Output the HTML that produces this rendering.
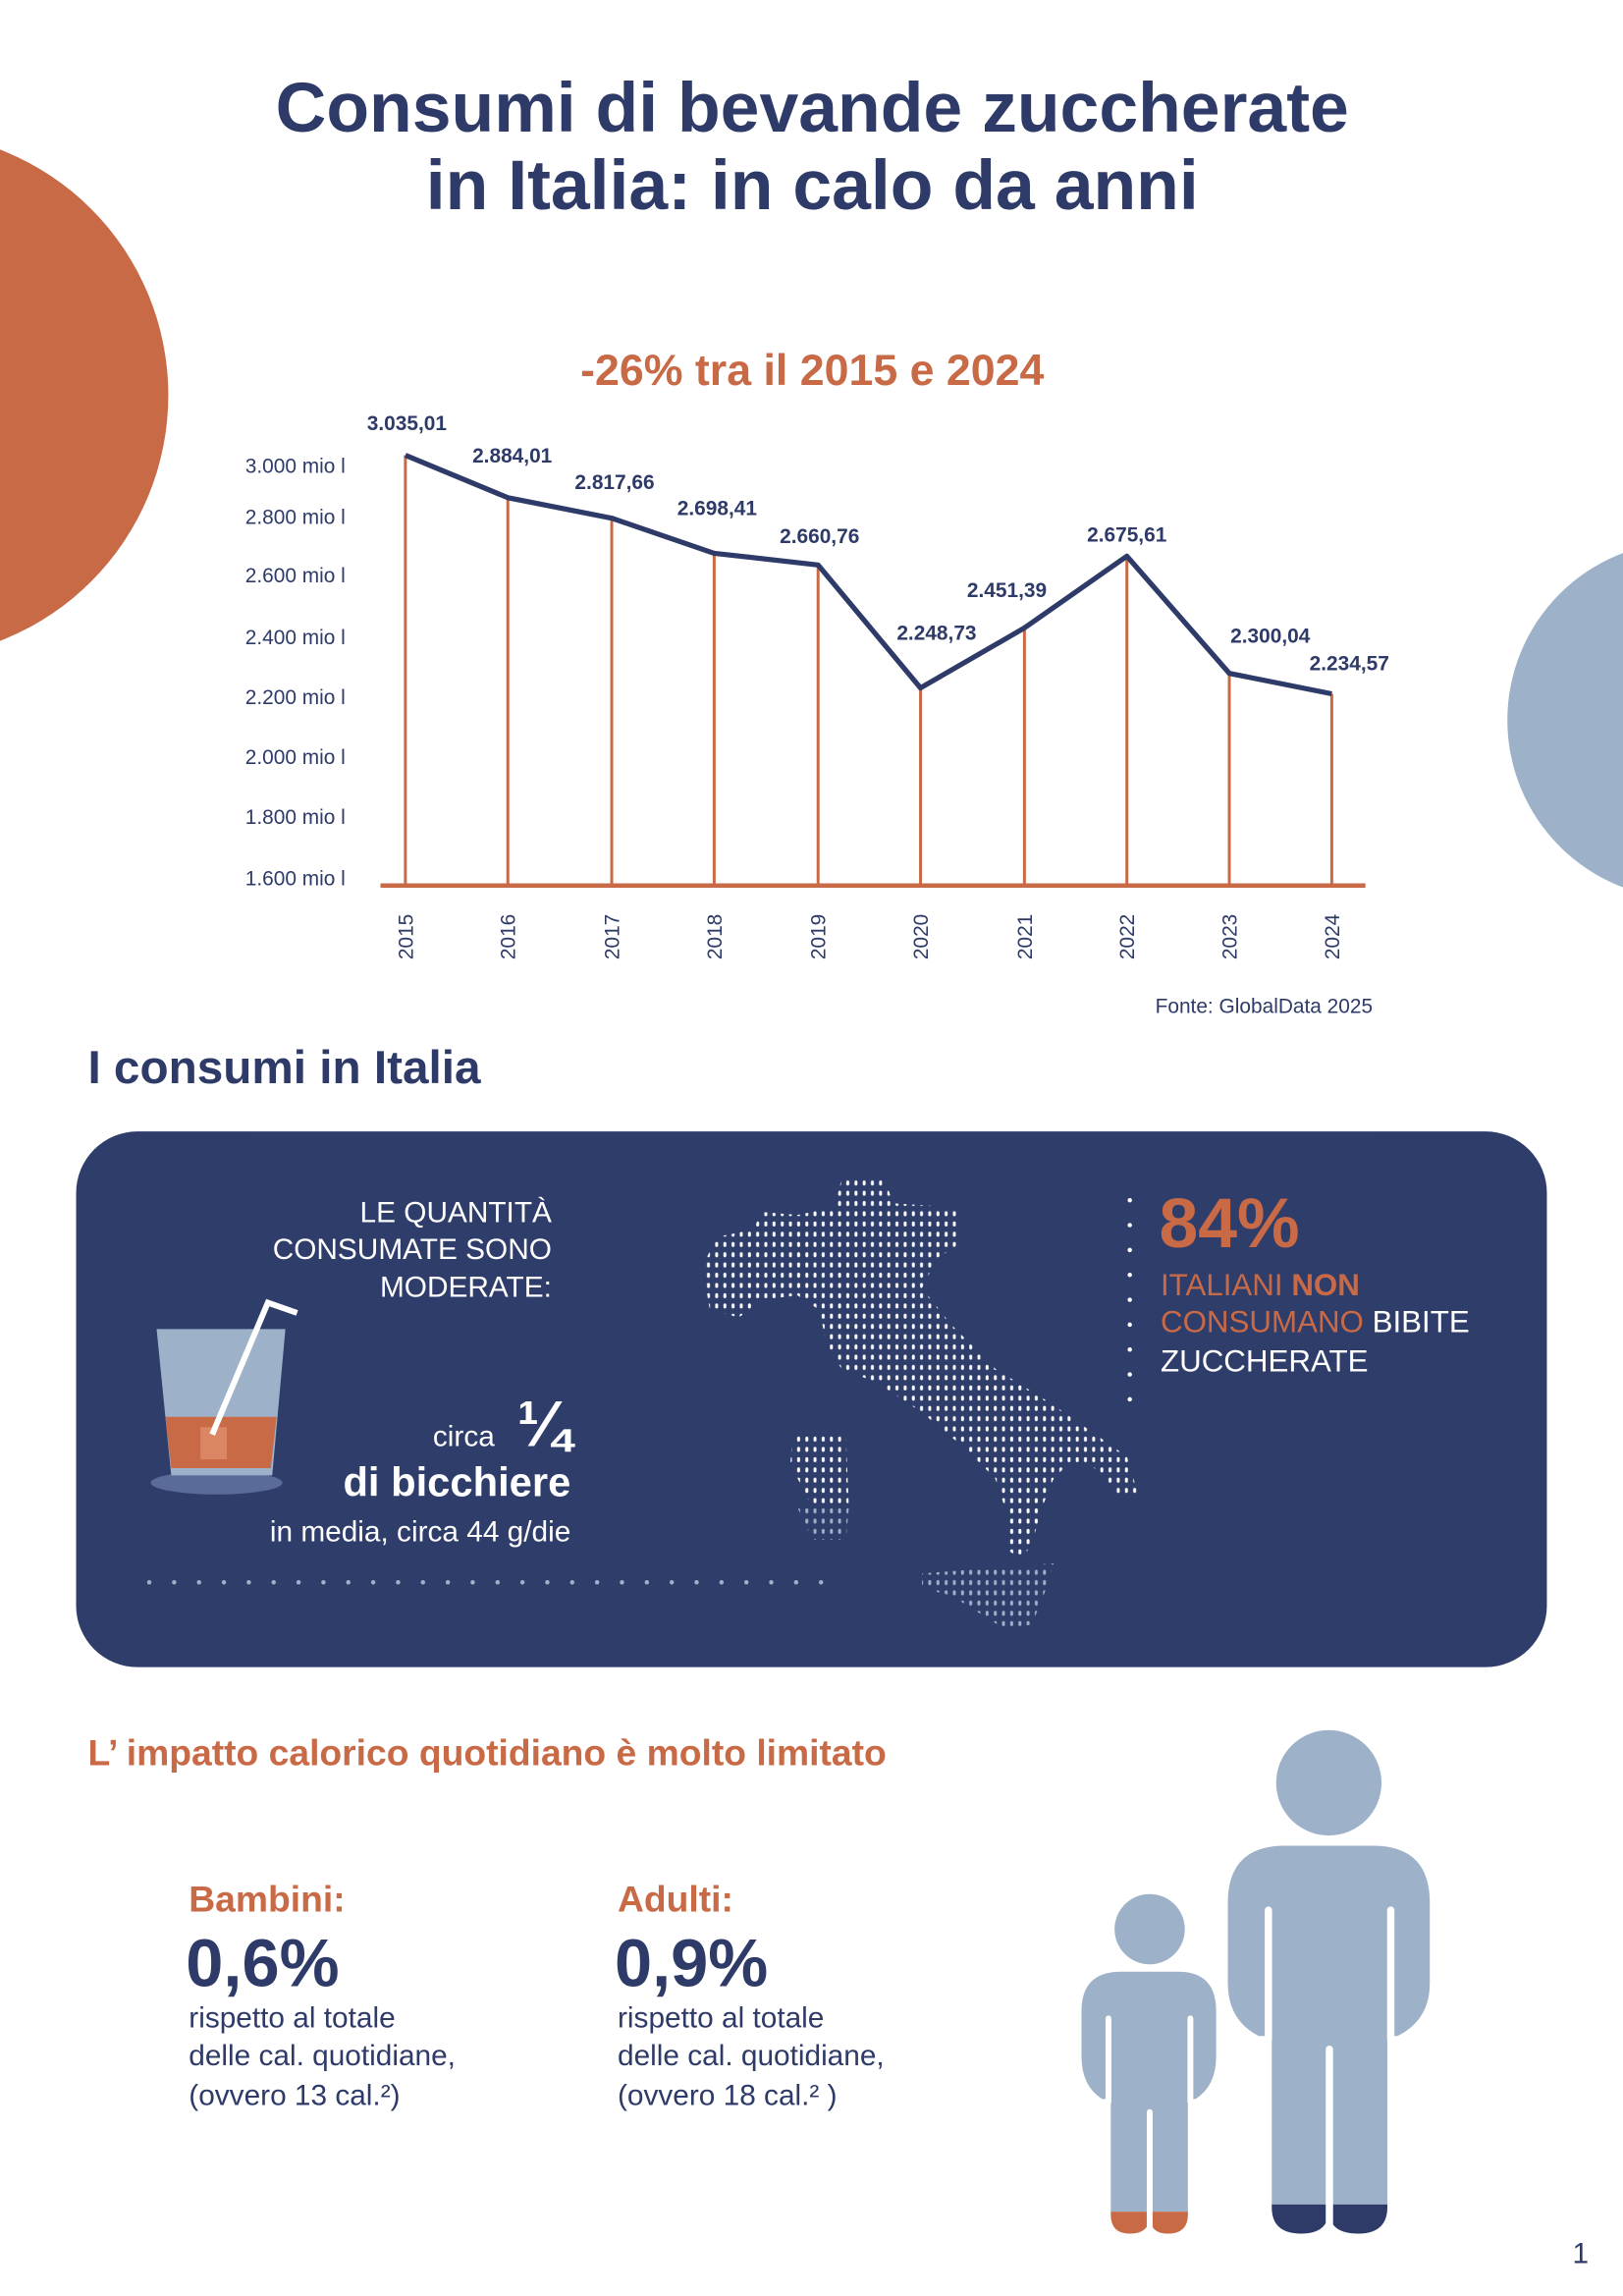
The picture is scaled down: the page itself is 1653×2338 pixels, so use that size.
<!DOCTYPE html>
<html><head><meta charset="utf-8"><style>html,body{margin:0;padding:0;background:#fff}svg{display:block}text{font-family:"Liberation Sans",sans-serif}</style></head><body>
<svg width="1653" height="2338" viewBox="0 0 1109 1568.6" xmlns="http://www.w3.org/2000/svg">
<defs>
<pattern id="dots" x="0" y="0" width="5.6" height="7" patternUnits="userSpaceOnUse"><rect x="1.5" y="1.5" width="2" height="3.4" rx="1" fill="#fff"/></pattern>
<pattern id="dots2" x="0" y="0" width="5.6" height="7" patternUnits="userSpaceOnUse"><rect x="1.5" y="1.5" width="2" height="3.4" rx="1" fill="#9db1c8"/></pattern>
</defs>
<circle cx="-65" cy="270" r="180" fill="#c96a47"/>
<circle cx="1152" cy="492" r="122" fill="#9db1c8"/>
<g fill="#2e3a68" font-weight="bold" font-size="48" text-anchor="middle">
<text x="555" y="90">Consumi di bevande zuccherate</text>
<text x="555" y="143">in Italia: in calo da anni</text>
</g>
<text x="555" y="263" text-anchor="middle" fill="#c96a47" font-weight="bold" font-size="30">-26% tra il 2015 e 2024</text>
<g font-size="14" fill="#2e3a68" text-anchor="end">
<text x="236" y="323">3.000 mio l</text><text x="236" y="358">2.800 mio l</text><text x="236" y="398">2.600 mio l</text><text x="236" y="440">2.400 mio l</text><text x="236" y="481">2.200 mio l</text><text x="236" y="522">2.000 mio l</text><text x="236" y="563">1.800 mio l</text><text x="236" y="605">1.600 mio l</text>
</g>
<g stroke="#c96a47" stroke-width="2">
<line x1="277" y1="311" x2="277" y2="605"/><line x1="347" y1="340" x2="347" y2="605"/><line x1="418" y1="354" x2="418" y2="605"/><line x1="488" y1="378" x2="488" y2="605"/><line x1="559" y1="386" x2="559" y2="605"/><line x1="629" y1="470" x2="629" y2="605"/><line x1="700" y1="429" x2="700" y2="605"/><line x1="770" y1="380" x2="770" y2="605"/><line x1="840" y1="460" x2="840" y2="605"/><line x1="910" y1="474" x2="910" y2="605"/>
</g>
<line x1="260" y1="605" x2="933" y2="605" stroke="#c96a47" stroke-width="3"/>
<polyline points="277,311 347,340 418,354 488,378 559,386 629,470 700,429 770,380 840,460 910,474" fill="none" stroke="#2e3a68" stroke-width="3.5" stroke-linejoin="round"/>
<g font-size="14" font-weight="bold" fill="#2e3a68" text-anchor="middle">
<text x="278" y="294">3.035,01</text><text x="350" y="316">2.884,01</text><text x="420" y="334">2.817,66</text><text x="490" y="352">2.698,41</text><text x="560" y="371">2.660,76</text><text x="640" y="437">2.248,73</text><text x="688" y="408">2.451,39</text><text x="770" y="370">2.675,61</text><text x="868" y="439">2.300,04</text><text x="922" y="458">2.234,57</text>
</g>
<g font-size="14" fill="#2e3a68" text-anchor="middle">
<text transform="translate(282,640) rotate(-90)">2015</text><text transform="translate(352,640) rotate(-90)">2016</text><text transform="translate(423,640) rotate(-90)">2017</text><text transform="translate(493,640) rotate(-90)">2018</text><text transform="translate(564,640) rotate(-90)">2019</text><text transform="translate(634,640) rotate(-90)">2020</text><text transform="translate(705,640) rotate(-90)">2021</text><text transform="translate(775,640) rotate(-90)">2022</text><text transform="translate(845,640) rotate(-90)">2023</text><text transform="translate(915,640) rotate(-90)">2024</text>
</g>
<text x="938" y="692" text-anchor="end" font-size="14" fill="#2e3a68">Fonte: GlobalData 2025</text>
<text x="60" y="740" font-size="32" font-weight="bold" fill="#2e3a68">I consumi in Italia</text>
<rect x="52" y="773" width="1005" height="366" rx="42" fill="#2f3d6b"/>
<polygon fill="url(#dots)" points="575,806 605,806 610,822 655,825 655,850 640,860 630,880 650,905 680,935 720,960 770,995 778,1022 765,1022 745,1000 730,1000 720,1010 712,1030 705,1055 698,1065 690,1060 690,1040 680,1010 660,990 630,965 600,945 575,935 565,920 560,895 545,885 520,888 505,900 485,895 480,865 490,845 515,840 520,828 545,830 570,825"/>
<polygon fill="url(#dots)" points="542,980 578,980 580,1030 555,1030 545,1010 540,1000"/>
<polygon fill="url(#dots2)" points="545,1030 580,1030 578,1052 555,1052"/>
<polygon fill="url(#dots2)" points="630,1075 720,1068 715,1085 705,1110 685,1112 650,1090 630,1085"/>
<g fill="#fff" font-size="20" text-anchor="end">
<text x="377" y="835">LE QUANTITÀ</text><text x="377" y="860">CONSUMATE SONO</text><text x="377" y="886">MODERATE:</text>
<text x="338" y="988">circa</text>
<text x="390" y="988" font-size="44" font-weight="bold">¼</text>
<text x="390" y="1022" font-size="28" font-weight="bold">di bicchiere</text>
<text x="390" y="1053">in media, circa 44 g/die</text>
</g>
<line x1="102" y1="1081" x2="576" y2="1081" stroke="#9db1c8" stroke-width="3" stroke-dasharray="0 17" stroke-linecap="round"/>
<line x1="772" y1="820" x2="772" y2="960" stroke="#fff" stroke-width="3" stroke-dasharray="0 17" stroke-linecap="round"/>
<text x="792" y="852" fill="#c96a47" font-size="48" font-weight="bold">84%</text>
<g font-size="21">
<text x="793" y="885" fill="#c96a47">ITALIANI <tspan font-weight="bold">NON</tspan></text>
<text x="793" y="910" fill="#c96a47">CONSUMANO <tspan fill="#fff">BIBITE</tspan></text>
<text x="793" y="937" fill="#fff">ZUCCHERATE</text>
</g>
<ellipse cx="148" cy="1013" rx="45" ry="8" fill="#5a6a99"/>
<polygon points="107,908 195,908 186,1008 117,1008" fill="#9db1c8"/>
<polygon points="113,968 189,968 185,1003 117,1003" fill="#c96a47"/>
<rect x="137" y="975" width="18" height="22" fill="#e08f6d" opacity="0.8"/>
<polyline points="145,980 183,890 203,897" fill="none" stroke="#fff" stroke-width="4"/>
<text x="60" y="1206" fill="#c96a47" font-size="25" font-weight="bold">L’ impatto calorico quotidiano è molto limitato</text>
<g>
<text x="129" y="1306" fill="#c96a47" font-size="25" font-weight="bold">Bambini:</text>
<text x="127" y="1357" fill="#2e3a68" font-size="46" font-weight="bold">0,6%</text>
<g fill="#2e3a68" font-size="20"><text x="129" y="1385">rispetto al totale</text><text x="129" y="1411">delle cal. quotidiane,</text><text x="129" y="1438">(ovvero 13 cal.²)</text></g>
<text x="422" y="1306" fill="#c96a47" font-size="25" font-weight="bold">Adulti:</text>
<text x="420" y="1357" fill="#2e3a68" font-size="46" font-weight="bold">0,9%</text>
<g fill="#2e3a68" font-size="20"><text x="422" y="1385">rispetto al totale</text><text x="422" y="1411">delle cal. quotidiane,</text><text x="422" y="1438">(ovvero 18 cal.² )</text></g>
</g>
<!-- adult -->
<circle cx="908" cy="1218" r="36" fill="#9db1c8"/>
<path d="M839,1300 Q839,1261 878,1261 L938,1261 Q977,1261 977,1300 L977,1355 Q977,1380 955,1391 L948,1391 L948,1506 L869,1506 L869,1391 L860,1391 Q839,1380 839,1355 Z" fill="#9db1c8"/>
<path d="M869,1506 L948,1506 L948,1508 Q948,1526 928,1526 Q908,1526 908,1510 Q908,1526 889,1526 Q869,1526 869,1508 Z" fill="#2e3a68"/>
<g stroke="#fff" stroke-width="5" stroke-linecap="round"><line x1="866.7" y1="1305" x2="866.7" y2="1393"/><line x1="950.3" y1="1305" x2="950.3" y2="1393"/><line x1="908.4" y1="1400" x2="908.4" y2="1540"/></g>
<!-- child -->
<circle cx="785.6" cy="1318" r="24" fill="#9db1c8"/>
<path d="M739,1374 Q739,1347 766,1347 L805,1347 Q831,1347 831,1374 L831,1405 Q831,1425 817,1434 L811.7,1434 L811.7,1511 L759,1511 L759,1434 L753,1434 Q739,1425 739,1405 Z" fill="#9db1c8"/>
<path d="M759,1511 L811.7,1511 L811.7,1513 Q811.7,1526 798,1526 Q785.6,1526 785.6,1514 Q785.6,1526 772,1526 Q759,1526 759,1513 Z" fill="#c96a47"/>
<g stroke="#fff" stroke-width="4" stroke-linecap="round"><line x1="757.4" y1="1379" x2="757.4" y2="1436"/><line x1="813.4" y1="1379" x2="813.4" y2="1436"/><line x1="785.6" y1="1443" x2="785.6" y2="1540"/></g>
<text x="1080" y="1546" fill="#2e3a68" font-size="20" text-anchor="middle">1</text>
</svg>
</body></html>
